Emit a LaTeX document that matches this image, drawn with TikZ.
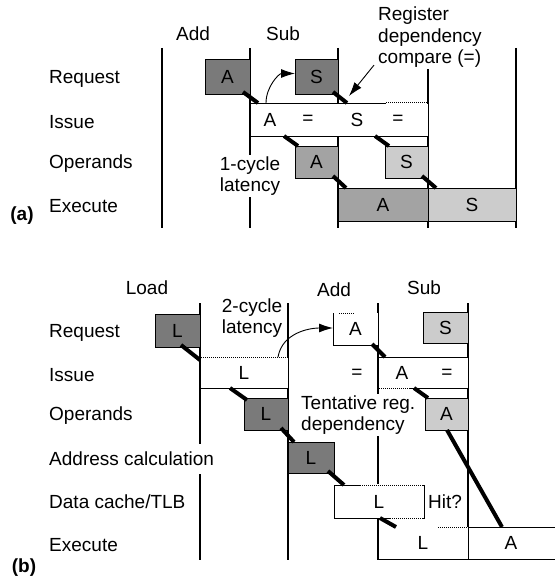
\documentclass[tikz,border=0pt]{standalone}
\usepackage{fontspec}
\setmainfont{Liberation Sans}
\usetikzlibrary{arrows.meta,positioning}

\begin{document}
\begin{tikzpicture}[x=1pt, y=-1pt, font=\fontsize{19}{21.5}\selectfont,
    box/.style={draw, line width=0.9pt, inner sep=0pt, outer sep=0pt, anchor=north west},
    dark/.style={box, fill=black!52},
    mid/.style={box, fill=black!36},
    light/.style={box, fill=black!20},
    blank/.style={box, fill=white},
    col/.style={line width=1.1pt},
    link/.style={line width=4pt},
    stage/.style={anchor=west, fill=white, inner sep=1pt},
    note/.style={fill=white, inner sep=1pt, align=center},
    erase/.style={white, line width=2pt},
    dots/.style={densely dotted, line width=1pt},
    hop/.style={-{Latex[length=14pt,width=9pt]}, line width=0.9pt}]
\useasboundingbox (0,0) rectangle (554,580);

% ---------- (a) ----------
\node (a-add) at (193,34) {Add};
\node (a-sub) at (283,34) {Sub};
\foreach \x in {162,250,338,428,516}
    \draw[col] (\x,48) -- (\x,228);
\node[note, align=left, anchor=north west] (a-reg) at (377,6) {Register\\dependency\\compare (=)};

\node[stage] (a-req) at (48,79) {Request};
\node[stage] (a-iss) at (48,122) {Issue};
\node[stage] (a-opd) at (48,164) {Operands};
\node[stage] (a-exe) at (48,206) {Execute};
\node (a-tag) at (22,216) {\textbf{(a)}};

\node[dark, minimum width=45, minimum height=35] (a-reqA) at (205,59) {A};
\node[dark, minimum width=43, minimum height=35] (a-reqS) at (295,59) {S};
\node[blank, minimum width=178, minimum height=33] (a-issue) at (250,103) {};
\draw[erase] (386,103) -- (427,103);
\draw[dots] (386,103) -- (427,103);
\node (a-issA) at (270,120) {A};
\node (a-eq1) at (308,120) {=};
\node (a-issS) at (357,120) {S};
\node (a-eq2) at (398,120) {=};
\node[mid, minimum width=43, minimum height=32] (a-opdA) at (295,146) {A};
\node[light, minimum width=43, minimum height=32] (a-opdS) at (385,146) {S};
\node[mid, minimum width=90, minimum height=33] (a-exeA) at (338,188) {A};
\node[light, minimum width=88, minimum height=33] (a-exeS) at (428,188) {S};

\draw[link] ([shift={(-7,-2)}]a-reqA.south east) -- ([shift={(8,0)}]a-issue.north west);
\draw[link] ([shift={(-5,-2)}]a-reqS.south east) -- ([shift={(97,0)}]a-issue.north west);
\draw[link] ([shift={(34,0)}]a-issue.south west) -- ([shift={(3,0)}]a-opdA.north west);
\draw[link] ([shift={(125,0)}]a-issue.south west) -- ([shift={(4,0)}]a-opdS.north west);
\draw[link] ([shift={(-5,-2)}]a-opdA.south east) -- ([shift={(8,0)}]a-exeA.north west);
\draw[link] ([shift={(-6,-2)}]a-opdS.south east) -- ([shift={(8,0)}]a-exeS.north west);

\node[note] (a-lat) at (250,176) {1-cycle\\latency};
\draw[hop] ([shift={(16,0)}]a-issue.north west) to[out=90,in=180] ([shift={(0,-3)}]a-reqS.west);
\coordinate (a-cmp) at (349,96);
\draw[hop] ([shift={(-3,-4)}]a-reg.south west) -- (a-cmp);

% ---------- (b) ----------
\node (b-load) at (147,288) {Load};
\node (b-add) at (334,290) {Add};
\node (b-sub) at (424,288) {Sub};
\foreach \x in {200,288,378,468}
    \draw[col] (\x,303) -- (\x,560);

\node[stage] (b-req) at (48,333) {Request};
\node[stage] (b-iss) at (48,375) {Issue};
\node[stage] (b-opd) at (48,416) {Operands};
\node[stage, inner ysep=8pt] (b-adr) at (48,459) {Address calculation};
\node[stage] (b-dc) at (48,502) {Data cache/TLB};
\node[stage] (b-exe) at (48,545) {Execute};
\node (b-tag) at (24,568) {\textbf{(b)}};

\node[dark, minimum width=45, minimum height=33] (b-reqL) at (155,314) {L};
\node[blank, minimum width=88, minimum height=31] (b-issL) at (200,357) {L};
\draw[erase] (201,357) -- (287,357);
\draw[dots] (201,357) -- (287,357);
\node[blank, draw=none, minimum width=45, minimum height=32] (b-reqA) at (333,313) {A};
\draw[line width=0.9pt] (b-reqA.north west) -- (b-reqA.south west) -- (b-reqA.south east);
\draw[dots] ([shift={(6,0)}]b-reqA.north west) -- ([shift={(22,0)}]b-reqA.north west);
\node[light, minimum width=45, minimum height=31] (b-reqS) at (423,312) {S};
\node[blank, minimum width=90, minimum height=31] (b-issA) at (378,357) {};
\draw[erase] (379,388) -- (410,388);
\draw[dots] (379,388) -- (410,388);
\node (b-eq1) at (357,374) {=};
\node (b-issAt) at (402,373) {A};
\node (b-eq2) at (447,374) {=};
\node[dark, minimum width=44, minimum height=32] (b-opdL) at (244,398) {L};
\node[light, minimum width=43, minimum height=32] (b-opdA) at (425,398) {A};
\node[dark, minimum width=46, minimum height=31] (b-adrL) at (288,442) {L};
\node[blank, minimum width=90, minimum height=33] (b-dcL) at (334,485) {L};
\draw[erase] (360,485) -- (423,485);
\draw[dots] (360,485) -- (423,485);
\draw[erase] (390,518) -- (423,518);
\draw[dots] (390,518) -- (423,518);
\node[blank, draw=none, minimum width=90, minimum height=32] (b-exeL) at (378,527) {L};
\draw[line width=0.9pt] (b-exeL.north west) -- (b-exeL.south west) -- (b-exeL.south east);
\draw[dots] ([shift={(60,0)}]b-exeL.north west) -- (b-exeL.north east);
\node[blank, minimum width=90, minimum height=32] (b-exeA) at (468,527) {\hspace*{-2pt}A\hspace*{2pt}};
\node (b-hit) at (445,502) {Hit?};

\draw[link] ([shift={(-19,-2)}]b-reqL.south east) -- ([shift={(0,3)}]b-issL.north west);
\draw[link] ([shift={(30,0)}]b-issL.south west) -- ([shift={(3,2)}]b-opdL.north west);
\draw[link] ([shift={(-7,-2)}]b-opdL.south east) -- ([shift={(6,0)}]b-adrL.north west);
\draw[link] ([shift={(-6,-2)}]b-adrL.south east) -- ([shift={(10,0)}]b-dcL.north west);
\draw[link] ([shift={(46,0)}]b-dcL.south west) -- ([shift={(18,0)}]b-exeL.north west);
\draw[link] ([shift={(-6,-1)}]b-reqA.south east) -- ([shift={(7,0)}]b-issA.north west);
\draw[link] ([shift={(36,0)}]b-issA.south west) -- ([shift={(3,0)}]b-opdA.north west);
\draw[link] ([shift={(22,0)}]b-opdA.south west) -- ([shift={(34,0)}]b-exeA.north west);

\node[note] (b-lat) at (252,318) {2-cycle\\latency};
\draw[hop] ([shift={(78,0)}]b-issL.north west) to[out=80,in=180] ([shift={(0,-1)}]b-reqA.west);
\node[note, align=left, anchor=west] (b-tent) at (300,415) {Tentative reg.\\dependency};
\end{tikzpicture}
\end{document}
